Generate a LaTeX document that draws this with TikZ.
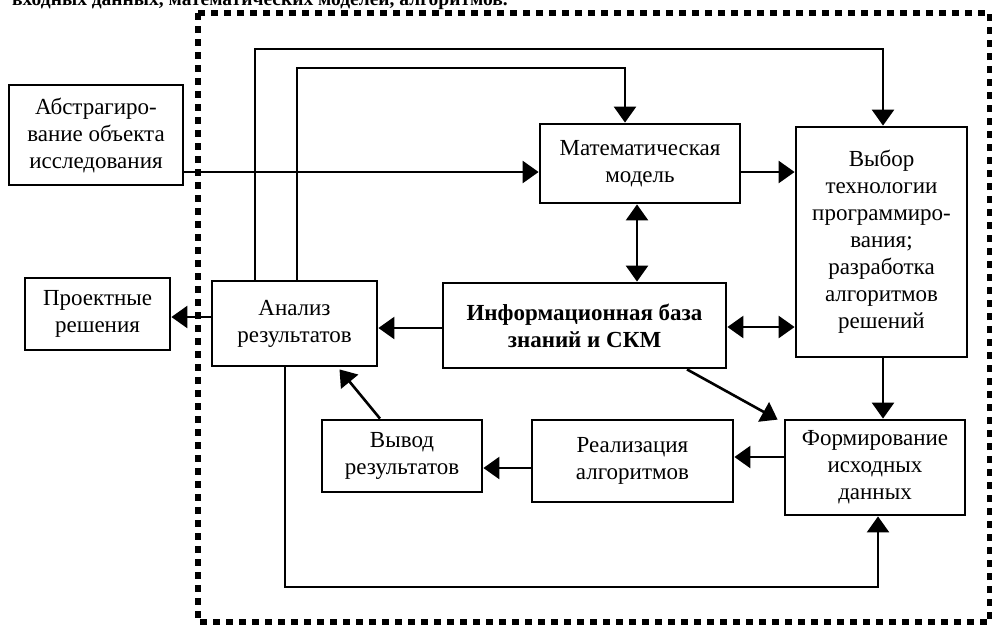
\documentclass[tikz,border=0pt]{standalone}
\usepackage{fontspec}
\setmainfont{Liberation Serif}
\usetikzlibrary{arrows.meta,calc}
\begin{document}
\begin{tikzpicture}[x=1pt,y=-1pt,
  box/.style={draw,line width=2.8pt,align=center,inner sep=0pt,
    font=\fontsize{23}{27}\selectfont},
  conn/.style={line width=2.6pt},
  arr/.style={conn,-{Triangle[length=16pt,width=22pt]}},
  darr/.style={conn,{Triangle[length=16pt,width=22pt]}-{Triangle[length=16pt,width=22pt]}},
  frame/.style={line width=6.5pt,dash pattern=on 7pt off 6pt}
]
\useasboundingbox (0,0) rectangle (992,625);
\fill[white] (0,0) rectangle (992,625);
% cut-off caption line at the top
\node[anchor=base west,inner sep=0pt,font=\bfseries\fontsize{19.5}{24}\selectfont] (cap) at (12,5) {входных данных, математических моделей, алгоритмов.};
% dotted frame
\draw[frame] (198,13) rectangle (990,622);
% boxes
\node[box,minimum width=174pt,minimum height=100pt] (abs) at (96,135) {Абстрагиро-\\вание объекта\\исследования};
\node[box,minimum width=145pt,minimum height=72pt] (proj) at (97.5,314) {Проектные\\решения};
\node[box,minimum width=165pt,minimum height=85pt] (anal) at (294.5,323.5) {Анализ\\результатов};
\node[box,minimum width=200pt,minimum height=79pt] (mat) at (640,163.5) {Математическая\\модель};
\node[box,minimum width=171pt,minimum height=230pt] (vyb) at (881.5,242) {Выбор\\технологии\\программиро-\\вания;\\разработка\\алгоритмов\\решений};
\node[box,minimum width=283pt,minimum height=85pt,font=\bfseries\fontsize{23}{27}\selectfont] (inf) at (584.5,325.5) {Информационная база\\знаний и СКМ};
\node[box,minimum width=160pt,minimum height=72pt] (vyv) at (402,456) {Вывод\\результатов};
\node[box,minimum width=201pt,minimum height=82pt] (real) at (632.5,461) {Реализация\\алгоритмов};
\node[box,minimum width=180pt,minimum height=95pt] (form) at (875,467.5) {Формирование\\исходных\\данных};
% helper coordinates
\coordinate (o1) at (255,49);
\coordinate (o2) at (297,68);
\coordinate (lb) at (285,587);
% connectors
\draw[arr] (abs.east |- 0,172) -- (mat.west |- 0,172);
\draw[arr] (mat.east |- 0,172) -- (vyb.west |- 0,172);
\draw[arr] (anal.north -| o1) |- (o1) -| (vyb.north -| 883,0);
\draw[arr] (anal.north -| o2) |- (o2) -| (mat.north -| 625,0);
\draw[darr] (mat.south -| 637,0) -- (inf.north -| 637,0);
\draw[arr] (inf.west |- 0,328) -- (anal.east |- 0,328);
\draw[darr] (inf.east |- 0,327) -- (vyb.west |- 0,327);
\draw[arr] (anal.west |- 0,317) -- (proj.east |- 0,317);
\draw[arr] (vyb.south -| 883,0) -- (form.north -| 883,0);
\draw[arr] (inf.south -| 687,0) -- ($(form.north west)+(-6,1)$);
\draw[arr] (form.west |- 0,457) -- (real.east |- 0,457);
\draw[arr] (real.west |- 0,468) -- (vyv.east |- 0,468);
\draw[arr] (vyv.north -| 380,0) -- ($(anal.south)+(45,2)$);
\draw[arr] (anal.south -| lb) |- (lb -| 878,0) -- (form.south -| 878,0);
\end{tikzpicture}
\end{document}
